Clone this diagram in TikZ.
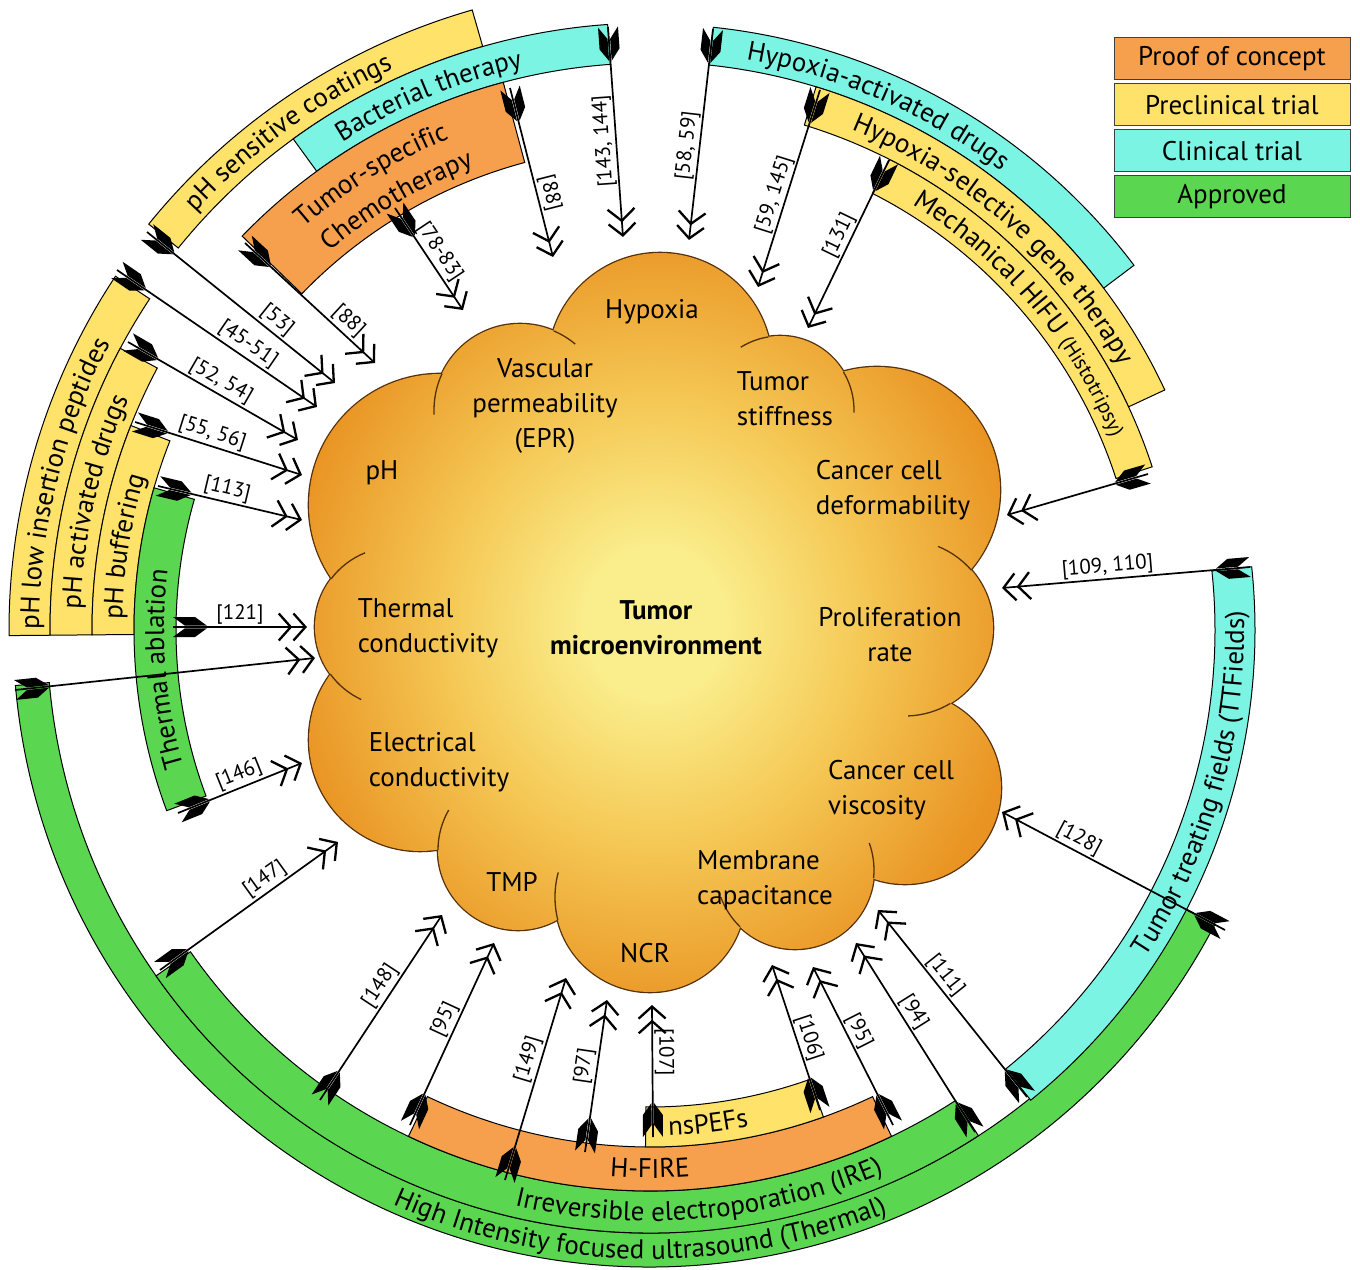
\documentclass[tikz,border=0pt]{standalone}
\usepackage{fontspec}
\setmainfont{PT Sans}
\usetikzlibrary{arrows.meta,decorations.markings,decorations.text}

\definecolor{poc}{RGB}{246,160,78}
\definecolor{pre}{RGB}{255,226,106}
\definecolor{cli}{RGB}{124,244,228}
\definecolor{app}{RGB}{90,214,80}
\definecolor{cloudlt}{RGB}{250,238,140}
\definecolor{cloudmd}{RGB}{245,200,85}
\definecolor{cloudor}{RGB}{233,148,35}
\definecolor{clouddk}{RGB}{224,126,18}
\definecolor{cloudln}{RGB}{85,48,12}
\pgfdeclareradialshading{cloudfill}{\pgfpoint{0bp}{0bp}}{color(0bp)=(cloudlt); color(5bp)=(cloudlt); color(15bp)=(cloudmd); color(27bp)=(cloudor); color(40bp)=(clouddk); color(50bp)=(clouddk)}

\newcommand\bandfnt{\fontsize{27}{32}\selectfont}
\newcommand\histfnt{\fontsize{21}{25}\selectfont}

\tikzset{
band/.style={draw,line width=1pt},
lab/.style={decorate,decoration={text along path,text align=center,text={|\bandfnt|#1}}},
fletch/.style={postaction={decorate,decoration={markings,mark=at position 0pt with
  {\fill (0,10)--(22,10)--(34,1.3)--(12,1.3)--cycle (0,-10)--(22,-10)--(34,-1.3)--(12,-1.3)--cycle;}}}},
ref/.style={fletch,line width=1.7pt,-{Straight Barb[length=12pt,width=27pt,line width=2.3pt] Straight Barb[length=12pt,width=27pt,line width=2.3pt]}},
num/.style={sloped,allow upside down,above,inner sep=2pt,font=\fontsize{21}{24}\selectfont},
prop/.style={font=\fontsize{27}{35}\selectfont,align=left,inner sep=0pt},
leg/.style={draw=black!75,line width=1pt,minimum width=236,minimum height=42,inner sep=0pt,font=\bandfnt},
}

\begin{document}
\begin{tikzpicture}[x=1pt,y=1pt]
  \fill[white] (-650,-639) rectangle (710,630);
  \useasboundingbox (-650,-639) rectangle (710,630);

  % stages
  \foreach \c/\a/\b/\ri/\ro in {pre/106/141/607/645, cli/94/126/567/607, poc/105/136/484/567,
      cli/37/84/568/606, pre/25/73/528/568, pre/18/63/490/528,
      pre/146.5/180.5/600/641, pre/152/180.5/558/600, pre/158.5/180.5/516/558, app/164/200.5/474/516,
      app/185/332.5/603/637, app/215/303/561/603, cli/-51/6/565/605, poc/244.5/295.5/517/561, pre/269.5/289.6/477/517}
    \filldraw[band,fill=\c] (\a:\ro) arc (\a:\b:\ro) -- (\b:\ri) arc (\b:\a:\ri) -- cycle;

  \path[lab={pH sensitive coatings}] (161:617) arc (161:91:617);
  \path[lab={Bacterial therapy}] (147.5:577) arc (147.5:77.5:577);
  \path[lab={Tumor-specific}] (156.5:531) arc (156.5:86.5:531);
  \path[lab={Chemotherapy}] (155.5:496) arc (155.5:85.5:496);
  \path[lab={Hypoxia-activated drugs}] (101.5:578) arc (101.5:31.5:578);
  \path[lab={Hypoxia-selective gene therapy}] (88.7:539) arc (88.7:8.7:539);
  \path[lab={Mechanical HIFU |\histfnt|(Histotripsy)}] (80.5:500) arc (80.5:0.5:500);
  \path[lab={pH low insertion peptides}] (201:611) arc (201:131:611);
  \path[lab={pH activated drugs}] (202:570) arc (202:132:570);
  \path[lab={pH buffering}] (206:528) arc (206:136:528);
  \path[lab={Thermal ablation}] (219.6:486) arc (219.6:149.6:486);
  \path[lab={Tumor treating fields (TTFields)}] (-55.8:594) arc (-55.8:24.2:594);
  \path[lab={High Intensity focused ultrasound (Thermal)}] (229:629) arc (229:309:629);
  \path[lab={Irreversible electroporation (IRE)}] (240:591) arc (240:310:591);
  \path[lab={H-FIRE}] (240:548) arc (240:300:548);
  \path[lab={nsPEFs}] (246.7:506) arc (246.7:306.7:506);

  % tumour cloud
  \foreach \x/\y/\r in {10/265/112,-130/220/86,-210/125/131,-255/3/80,-230/-110/111,-132/-220/80,
      0/-267/95,145/-240/79,255/-158/96,255/2/88,227/140/123,130/220/74}
    \draw[cloudln,line width=2.6pt] (\x,\y) circle (\r);
  \shade[shading=cloudfill] (0,0) circle (230)
    foreach \x/\y/\r in {10/265/112,-130/220/86,-210/125/131,-255/3/80,-230/-110/111,-132/-220/80,
      0/-267/95,145/-240/79,255/-158/96,255/2/88,227/140/123,130/220/74} {(\x,\y) circle (\r)};
  \foreach \x/\y/\r/\a/\b in {-130/220/86/155/183, -130/220/86/67/50, 130/220/74/99/122, 130/220/74/31/-2,
      -255/3/80/143/112, -255/3/80/216/245, 255/2/88/41/68, 255/2/88/-59/-88,
      -132/-220/80/180/150, 0/-267/95/194/165, 145/-240/79/226/200, 145/-240/79/-6/20}
    \draw[cloudln,line width=1.3pt] (\x,\y) ++(\a:\r) arc (\a:\b:\r);

  \node[prop] (hyp) at (2,318) {Hypoxia};
  \node[prop,align=center] (vasc) at (-105,224) {Vascular\\permeability\\(EPR)};
  \node[prop] (stiff) at (135,231) {Tumor\\stiffness};
  \node[prop] (deform) at (243,140) {Cancer cell\\deformability};
  \node[prop] (ph) at (-268,157) {pH};
  \node[prop] (therm) at (-222,2) {Thermal\\conductivity};
  \node[prop,align=center,font=\fontsize{27}{35}\selectfont\bfseries] (tme) at (6,2) {Tumor\\microenvironment};
  \node[prop,align=center] (prolif) at (240,-5) {Proliferation\\rate};
  \node[prop] (elec) at (-211,-132) {Electrical\\conductivity};
  \node[prop] (visc) at (241,-160) {Cancer cell\\viscosity};
  \node[prop] (memb) at (115,-250) {Membrane\\capacitance};
  \node[prop] (tmp) at (-138,-252) {TMP};
  \node[prop] (ncr) at (-5,-323) {NCR};

  % references
  \foreach \n/\tx/\ty/\hx/\hy/\p/\l in {53/-503/398/-315/247/.65/{[53]}, 88a/-405/387/-275/267/.73/{[88]},
      78/-255/422/-187/320/.5/{[78-83]}, 88b/-140/542/-97/373/.64/{[88]},
      45/-533/360/-333/223/.62/{[45-51]}, 52/-522/288/-352/190/.51/{[52, 54]},
      55/-515/208/-348/155/.44/{[55, 56]}, 113/-492/144/-348/110/.46/{[113]},
      121/-477/3/-343/3/.5/{[121]}, 146/-472/-183/-348/-133/.53/{[146]},
      147/-490/-340/-312/-212/.63/{[147]}, 148/-330/-470/-208/-285/.58/{[148]},
      95a/-240/-495/-156/-313/.55/{[95]}, 149/-145/-550/-84/-348/.58/{[149]},
      97/-65/-522/-43/-370/.55/{[97]}}{
    \coordinate (t\n) at (\tx,\ty);
    \coordinate (h\n) at (\hx,\hy);
    \draw[ref] (t\n) -- (h\n) node[num,pos=\p] (l\n) {\l};
  }
  \foreach \n/\tx/\ty/\hx/\hy/\p/\l in {107/3/-507/2/-375/.36/{[107]}, 106/170/-480/122/-335/.53/{[106]},
      95b/243/-495/163/-337/.44/{[95]}, 94/325/-502/206/-313/.4/{[94]},
      111/377/-467/228/-280/.39/{[111]}, 128/575/-300/352/-182/.32/{[128]},
      109/600/63/352/42/.43/{[109, 110]}, 131/239/470/158/302/.52/{[131]},
      59/170/540/108/343/.45/{[59, 145]}, 58/63/601/39/390/.44/{[58, 59]},
      143/-42/603/-27/393/.46/{[143, 144]}}{
    \coordinate (t\n) at (\tx,\ty);
    \coordinate (h\n) at (\hx,\hy);
    \draw[ref] (t\n) -- (h\n);
    \path (h\n) -- (t\n) node[num,pos=\p] (l\n) {\l};
  }
  \coordinate (tL) at (-635,-60);
  \coordinate (hL) at (-335,-28);
  \coordinate (tR) at (498,156);
  \coordinate (hR) at (357,115);
  \draw[ref] (tL) -- (hL);
  \draw[ref] (tR) -- (hR);

  % legend
  \node[leg,fill=poc] (lpoc) at (582,571) {Proof of concept};
  \node[leg,fill=pre] (lpre) at (582,525) {Preclinical trial};
  \node[leg,fill=cli] (lcli) at (582,479) {Clinical trial};
  \node[leg,fill=app] (lapp) at (582,433) {Approved};
\end{tikzpicture}
\end{document}
